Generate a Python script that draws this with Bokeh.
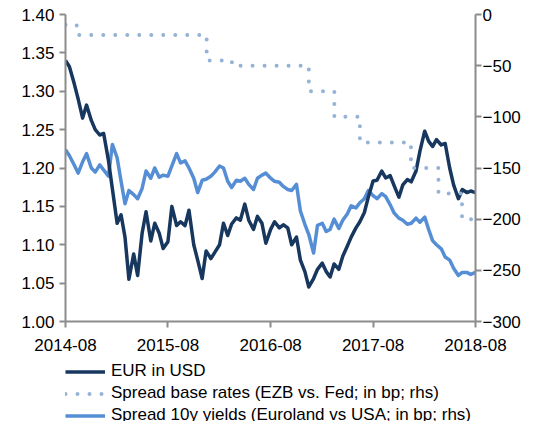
import pandas as pd
from bokeh.plotting import figure
from bokeh.layouts import column
from bokeh.models import (Range1d, LinearAxis, FixedTicker, DatetimeTickFormatter,
                          Legend, LegendItem, NumeralTickFormatter)
from bokeh.embed import file_html
from bokeh.resources import INLINE

# semi-monthly observations, 2014-08-01 .. 2018-08-01
dates = pd.date_range("2014-08-01", "2018-08-01", freq="SMS")

eur_usd = [
    1.340, 1.332, 1.310, 1.290, 1.265, 1.282, 1.262, 1.250, 1.243, 1.245,
    1.210, 1.173, 1.128, 1.139, 1.110, 1.055, 1.088, 1.060, 1.115, 1.143,
    1.105, 1.128, 1.115, 1.095, 1.104, 1.150, 1.125, 1.130, 1.125, 1.145,
    1.100, 1.080, 1.056, 1.092, 1.082, 1.090, 1.100, 1.128, 1.112, 1.127,
    1.135, 1.132, 1.153, 1.132, 1.120, 1.137, 1.128, 1.102, 1.120, 1.130,
    1.122, 1.126, 1.122, 1.100, 1.110, 1.080, 1.065, 1.045, 1.056, 1.068,
    1.076, 1.065, 1.058, 1.075, 1.068, 1.085, 1.098, 1.110, 1.122, 1.130,
    1.142, 1.162, 1.183, 1.184, 1.196, 1.187, 1.190, 1.177, 1.162, 1.178,
    1.185, 1.182, 1.196, 1.222, 1.248, 1.235, 1.228, 1.237, 1.230, 1.232,
    1.200, 1.178, 1.160, 1.172, 1.168, 1.170, 1.168,
]

spread_10y = [
    -132, -138, -147, -155, -144, -136, -150, -154, -147, -152,
    -158, -127, -140, -163, -185, -172, -176, -180, -170, -153,
    -160, -150, -159, -157, -158, -148, -136, -145, -143, -150,
    -160, -174, -162, -161, -158, -154, -148, -150, -163, -169,
    -162, -163, -160, -166, -171, -160, -157, -155, -160, -163,
    -164, -168, -171, -172, -166, -192, -205, -215, -233, -206,
    -204, -212, -210, -200, -209, -201, -195, -187, -189, -184,
    -180, -172, -177, -180, -175, -178, -186, -194, -199, -201,
    -205, -204, -199, -203, -198, -210, -221, -225, -229, -237,
    -240, -248, -255, -252, -252, -254, -252,
]

rate_dates = pd.to_datetime([
    "2014-08-01", "2014-09-10", "2015-12-17", "2016-03-16", "2016-12-15",
    "2017-03-16", "2017-06-15", "2017-12-14", "2018-03-22", "2018-06-14",
    "2018-08-01",
])
rate_spread = [-10, -20, -45, -50, -75, -100, -125, -150, -175, -200, -200]

x_ticks = ["2014-08", "2015-08", "2016-08", "2017-08", "2018-08"]
left_ticks = [1.00, 1.05, 1.10, 1.15, 1.20, 1.25, 1.30, 1.35, 1.40]
right_ticks = [-300, -250, -200, -150, -100, -50, 0]

labels = ["EUR in USD",
          "Spread base rates (EZB vs. Fed; in bp; rhs)",
          "Spread 10y yields (Euroland vs USA; in bp; rhs)"]

DARK = "#17375E"
MID = "#558ED5"
DOT = "#95B3D7"
AX = "#8C8C8C"
FONT = "Liberation Sans"

dark_style = dict(line_color=DARK, line_width=3.5, line_join="round")
mid_style = dict(line_color=MID, line_width=3.5, line_join="round")
dot_style = dict(line_color=DOT, line_width=4, line_dash="0 12", line_cap="round")

x_tick_ts = pd.to_datetime([t + "-01" for t in x_ticks])
x_tick_ms = [float(t.value // 10**6) for t in x_tick_ts]

W = 523

p = figure(x_axis_type="datetime", width=W, height=358,
           output_backend="svg", toolbar_location=None,
           min_border_left=65, min_border_right=41, min_border_top=14,
           min_border_bottom=37,
           x_range=Range1d(x_tick_ms[0], x_tick_ms[-1]),
           y_range=Range1d(1.00, 1.40))
p.extra_y_ranges = {"rhs": Range1d(-300, 0)}
p.outline_line_color = None
p.xgrid.visible = False
p.ygrid.visible = False
p.background_fill_color = "white"

p.line(dates, spread_10y, y_range_name="rhs", **mid_style)
p.line(dates, eur_usd, **dark_style)
p.step(rate_dates, rate_spread, mode="after", y_range_name="rhs", **dot_style)

def style(ax):
    ax.axis_line_color = AX
    ax.axis_line_width = 2
    ax.major_tick_line_color = AX
    ax.major_tick_line_width = 2
    ax.minor_tick_line_color = None
    ax.major_tick_in = 0
    ax.major_label_text_font = FONT
    ax.major_label_text_font_size = "17px"
    ax.major_label_text_color = "black"

xa = p.xaxis[0]
style(xa)
xa.ticker = FixedTicker(ticks=x_tick_ms)
xa.formatter = DatetimeTickFormatter(years="%Y-%m", months="%Y-%m", days="%Y-%m")
xa.major_tick_out = 6
xa.major_label_standoff = 11

ya = p.yaxis[0]
style(ya)
ya.ticker = FixedTicker(ticks=left_ticks)
ya.formatter = NumeralTickFormatter(format="0.00")
ya.major_tick_out = 6
ya.major_label_standoff = 5

ra = LinearAxis(y_range_name="rhs", ticker=FixedTicker(ticks=right_ticks))
style(ra)
ra.major_tick_out = 6
ra.major_label_standoff = 1
p.add_layout(ra, "right")

# legend panel below the chart (series drawn outside its view, only keys show)
lg = figure(width=W, height=63, output_backend="svg", toolbar_location=None,
            x_axis_type=None, y_axis_type=None,
            x_range=Range1d(0, 1), y_range=Range1d(0, 1),
            min_border_left=65, min_border_right=41, min_border_top=3,
            min_border_bottom=0)
lg.outline_line_color = None
lg.xgrid.visible = False
lg.ygrid.visible = False
k_dark = lg.line(dates, eur_usd, **dark_style)
k_dot = lg.step(rate_dates, rate_spread, mode="after", **dot_style)
k_mid = lg.line(dates, spread_10y, **mid_style)

legend = Legend(items=[LegendItem(label=labels[0], renderers=[k_dark]),
                       LegendItem(label=labels[1], renderers=[k_dot]),
                       LegendItem(label=labels[2], renderers=[k_mid])],
                location="top_left")
legend.border_line_color = None
legend.background_fill_alpha = 0
legend.padding = 0
legend.margin = 0
legend.spacing = 2
legend.glyph_width = 40
legend.glyph_height = 19
legend.label_height = 19
legend.label_standoff = 6
legend.label_text_font = FONT
legend.label_text_font_size = "17px"
legend.label_text_color = "black"
lg.add_layout(legend, "center")

layout = column(p, lg, spacing=0)
open("out.html", "w").write(file_html(layout, INLINE))
